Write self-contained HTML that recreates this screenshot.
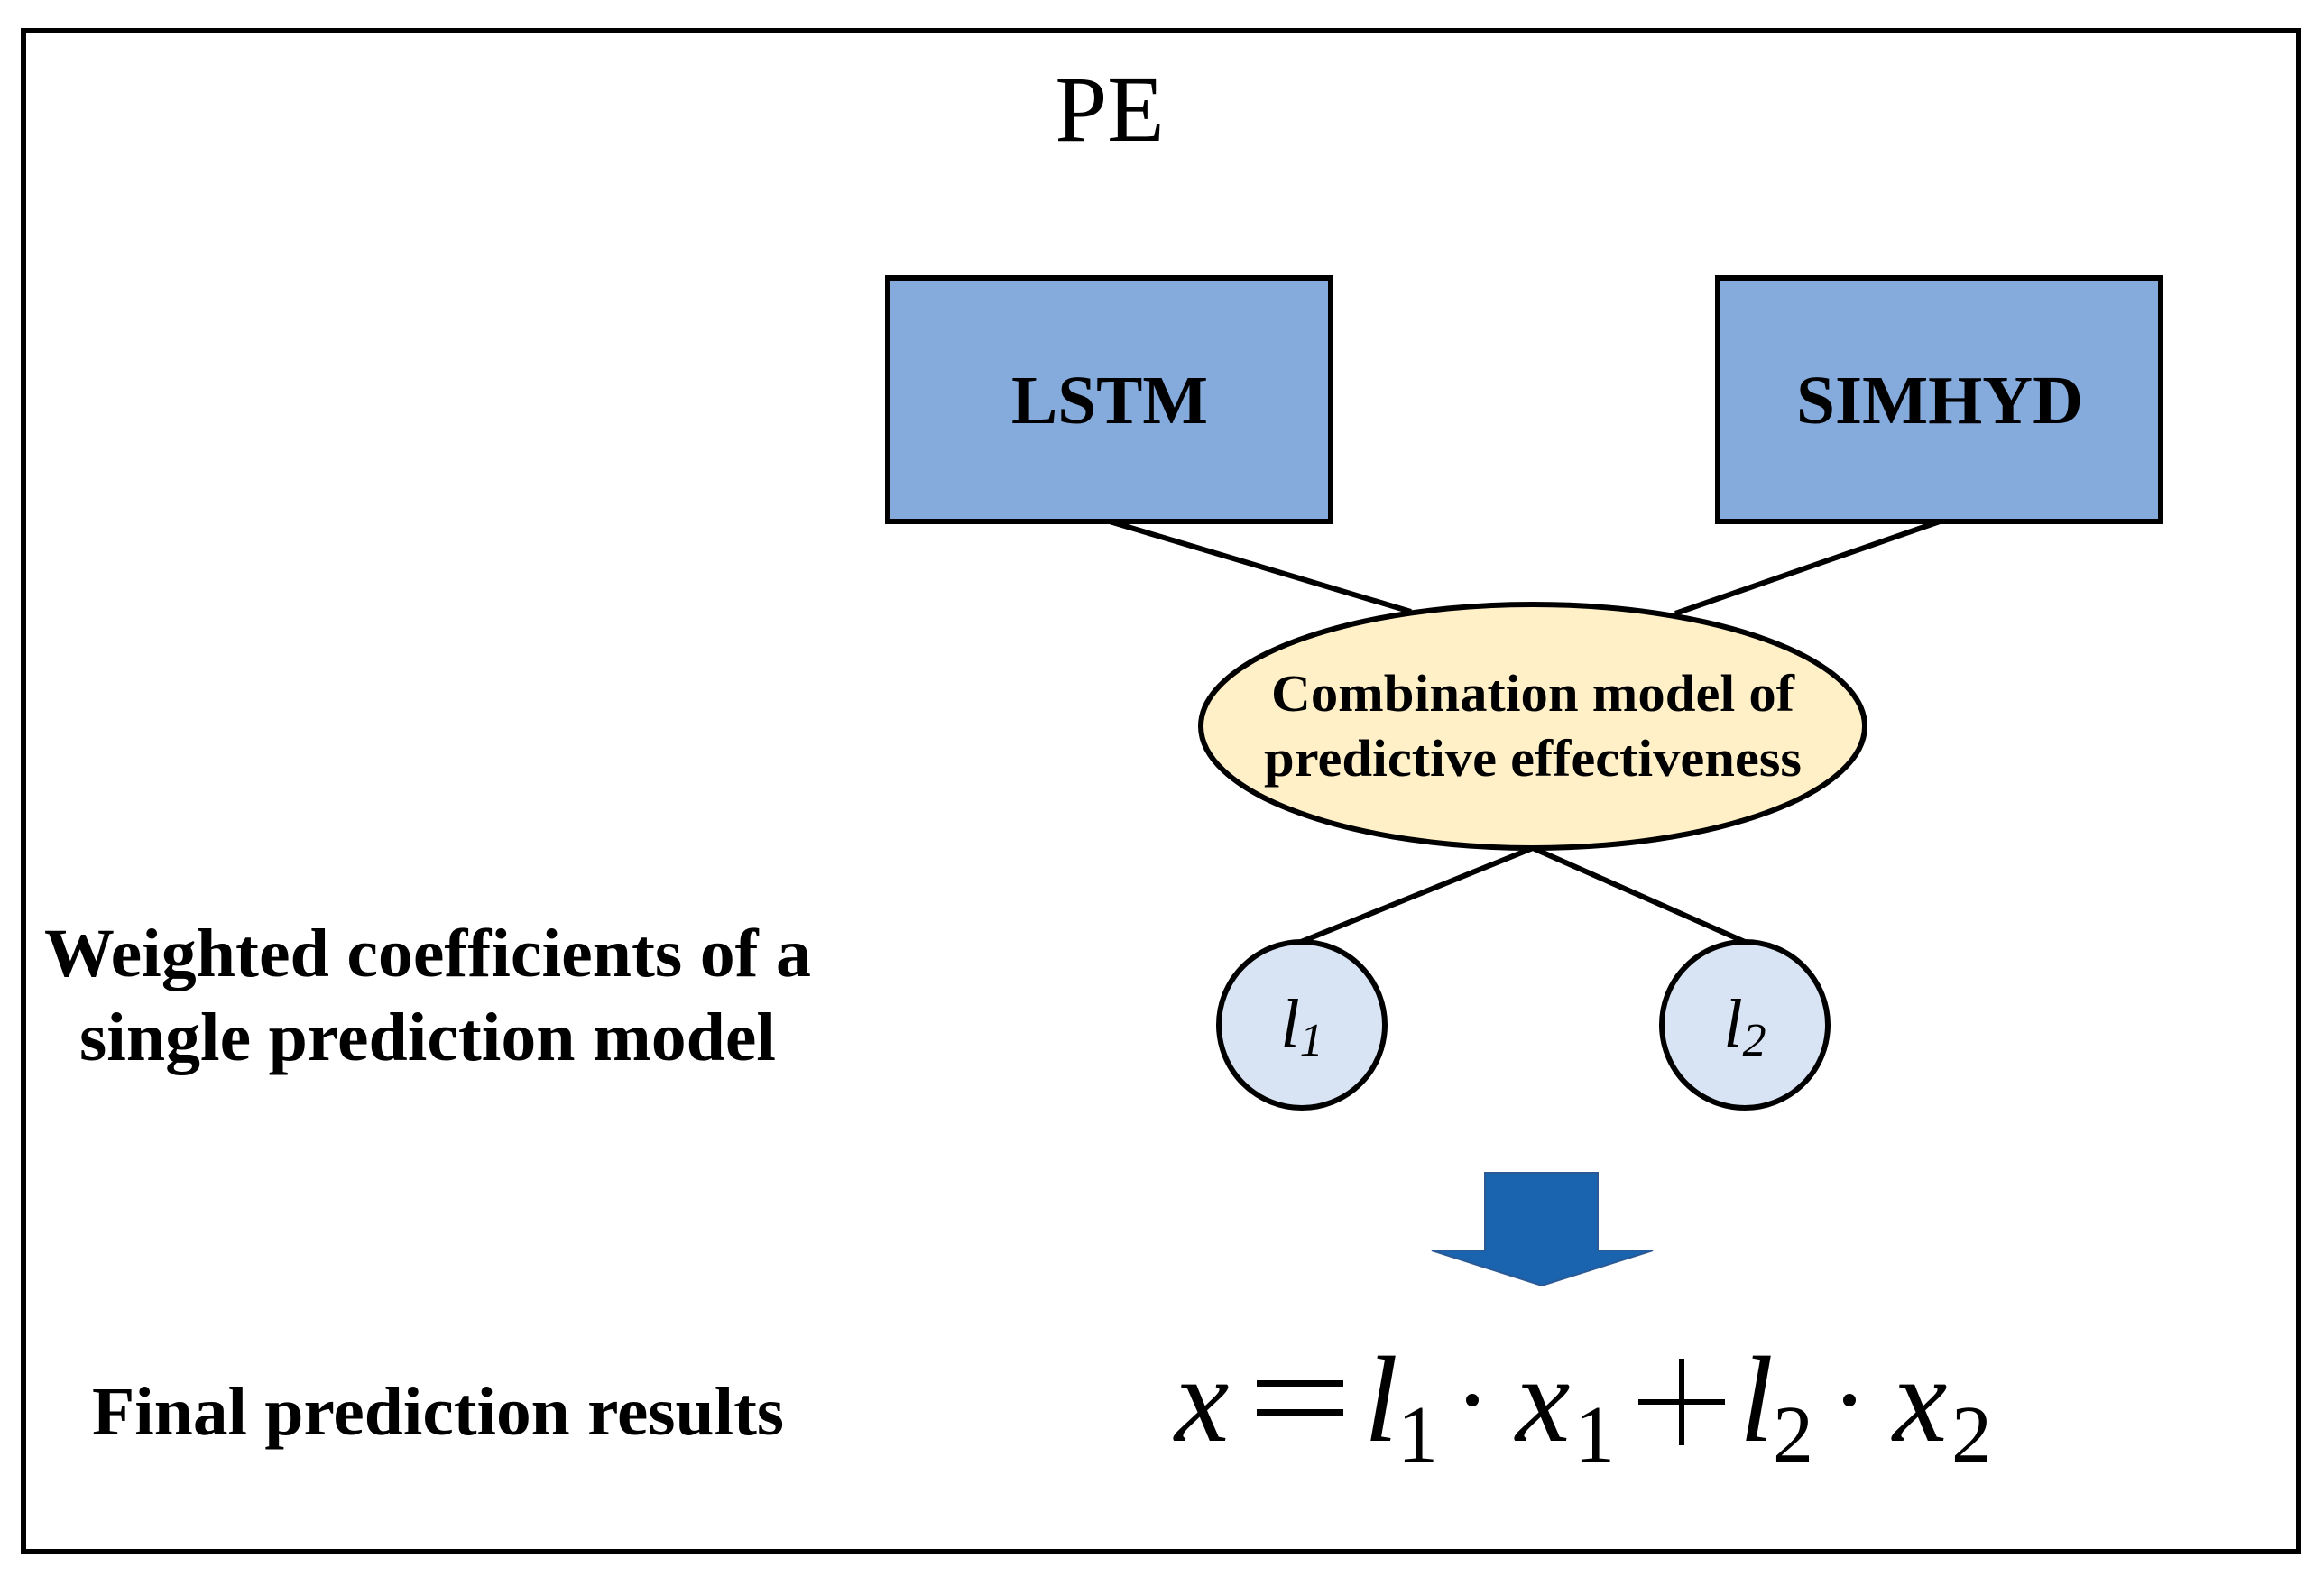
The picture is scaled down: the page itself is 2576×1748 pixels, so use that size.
<!DOCTYPE html>
<html><head><meta charset="utf-8"><style>
html,body{margin:0;padding:0;background:#fff;}
svg{display:block;}
text{font-family:"Liberation Serif",serif;}
</style></head><body>
<svg width="2576" height="1748" viewBox="0 0 2576 1748" xmlns="http://www.w3.org/2000/svg">
<rect x="26" y="34" width="2522" height="1686" fill="#fff" stroke="#000" stroke-width="6"/>
<text x="1230" y="156" font-size="104" text-anchor="middle">PE</text>
<g stroke="#000" stroke-width="6">
<line x1="1230" y1="578" x2="1564" y2="678"/>
<line x1="2150" y1="578" x2="1857" y2="680"/>
<line x1="1699" y1="940" x2="1442" y2="1044"/>
<line x1="1699" y1="940" x2="1934" y2="1044"/>
</g>
<rect x="984" y="308" width="491" height="270" fill="#85aadc" stroke="#000" stroke-width="6"/>
<rect x="1904" y="308" width="491" height="270" fill="#85aadc" stroke="#000" stroke-width="6"/>
<text x="1230" y="469" font-weight="bold" font-size="76" text-anchor="middle" textLength="218" lengthAdjust="spacingAndGlyphs">LSTM</text>
<text x="2150" y="469" font-weight="bold" font-size="76" text-anchor="middle" textLength="318" lengthAdjust="spacingAndGlyphs">SIMHYD</text>
<ellipse cx="1699" cy="805" rx="368" ry="135" fill="#fff0c8" stroke="#000" stroke-width="6"/>
<text x="1699" y="788" font-weight="bold" font-size="58" text-anchor="middle" textLength="580" lengthAdjust="spacingAndGlyphs">Combination model of</text>
<text x="1699" y="860" font-weight="bold" font-size="58" text-anchor="middle" textLength="596" lengthAdjust="spacingAndGlyphs">predictive effectiveness</text>
<ellipse cx="1443" cy="1136" rx="92" ry="92" fill="#d8e3f3" stroke="#000" stroke-width="6"/>
<ellipse cx="1934" cy="1136" rx="92" ry="92" fill="#d8e3f3" stroke="#000" stroke-width="6"/>
<text x="1443" y="1160" font-style="italic" font-size="76" text-anchor="middle">l<tspan font-size="52" dy="10">1</tspan></text>
<text x="1934" y="1160" font-style="italic" font-size="76" text-anchor="middle">l<tspan font-size="52" dy="10">2</tspan></text>
<text x="474" y="1082" font-weight="bold" font-size="76" text-anchor="middle" textLength="850" lengthAdjust="spacingAndGlyphs">Weighted coefficients of a</text>
<text x="474" y="1175" font-weight="bold" font-size="76" text-anchor="middle" textLength="772" lengthAdjust="spacingAndGlyphs">single prediction model</text>
<text x="102" y="1590" font-weight="bold" font-size="76" textLength="767" lengthAdjust="spacingAndGlyphs">Final prediction results</text>
<polygon points="1646,1300 1771,1300 1771,1386 1832,1386 1709,1425 1587,1386 1646,1386" fill="#1a63ae" stroke="#2a5a96" stroke-width="2"/>
<g font-size="136">
<text x="1302" y="1597" font-style="italic">x</text>
<rect x="1393" y="1530" width="96" height="7" fill="#000"/>
<rect x="1393" y="1562" width="96" height="7" fill="#000"/>
<text x="1512" y="1597" font-style="italic">l</text>
<text x="1549" y="1620" font-size="90">1</text>
<circle cx="1632" cy="1552" r="7" fill="#000"/>
<text x="1680" y="1597" font-style="italic">x</text>
<text x="1745" y="1620" font-size="90">1</text>
<rect x="1816" y="1551" width="96" height="6" fill="#000"/>
<rect x="1861" y="1506" width="6" height="96" fill="#000"/>
<text x="1928" y="1597" font-style="italic">l</text>
<text x="1965" y="1620" font-size="90">2</text>
<circle cx="2050" cy="1552" r="7" fill="#000"/>
<text x="2098" y="1597" font-style="italic">x</text>
<text x="2163" y="1620" font-size="90">2</text>
</g>
</svg>
</body></html>
